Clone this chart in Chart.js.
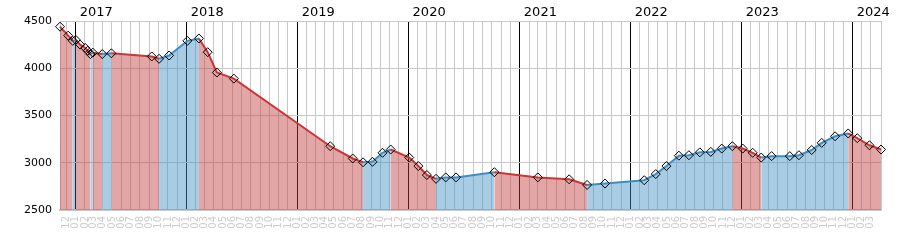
<!DOCTYPE html>
<html><head><meta charset="utf-8">
<style>html,body{margin:0;padding:0;background:#fff}#wrap{width:900px;height:250px}</style>
<script src="https://cdn.jsdelivr.net/npm/chart.js@4"></script>
</head><body><div id="wrap"><canvas id="c" width="900" height="250"></canvas></div>
<script>
// ---- data ----
const dates = [
"2016-11-11","2016-12-08","2016-12-23","2017-01-02","2017-01-16","2017-02-02","2017-02-10","2017-02-19","2017-02-27","2017-03-30",
"2017-04-29","2017-09-09","2017-10-03","2017-11-05","2018-01-04","2018-02-11","2018-03-12","2018-04-11","2018-06-06","2019-04-19",
"2019-07-02","2019-08-05","2019-09-05","2019-10-08","2019-11-04","2020-01-04","2020-02-03","2020-03-02","2020-04-01","2020-05-03",
"2020-06-06","2020-10-10","2021-03-02","2021-06-13","2021-08-11","2021-10-09","2022-02-15","2022-03-25","2022-04-29","2022-06-09",
"2022-07-12","2022-08-17","2022-09-22","2022-10-28","2022-12-02","2023-01-05","2023-02-07","2023-03-07","2023-04-10","2023-06-09",
"2023-07-09","2023-08-20","2023-09-22","2023-11-05","2023-12-18","2024-01-17","2024-02-26","2024-04-04"];
const values = [
4440,4345,4290,4300,4250,4215,4185,4150,4165,4150,
4158,4125,4100,4135,4290,4315,4170,3955,3890,3175,
3045,3005,3010,3105,3140,3055,2965,2870,2830,2845,
2845,2900,2845,2825,2765,2780,2815,2880,2965,3075,
3080,3110,3115,3150,3175,3150,3105,3055,3070,3070,
3080,3135,3210,3280,3310,3260,3185,3140];
const yTicks = [2500,3000,3500,4000,4500];
const monthLabels = ["01","02","03","04","05","06","07","08","09","10","11","12"];
const years = [2017,2018,2019,2020,2021,2022,2023,2024];

// ---- helpers ----
const DAY = 86400000, EPOCH = Date.UTC(2017,0,1);
function toDays(s){ const [y,m,d] = s.split('-').map(Number); return (Date.UTC(y,m-1,d)-EPOCH)/DAY; }
function fromDays(v){ return new Date(EPOCH + Math.round(v)*DAY); }
const pts = dates.map((d,i)=>({x: toDays(d), y: values[i]}));
const xMin = pts[0].x, xMax = pts[pts.length-1].x;

const RED_LINE = '#c83737', BLUE_LINE = '#3b8ec6';
const RED_FILL = 'rgba(193,57,57,0.45)', BLUE_FILL = 'rgba(62,142,195,0.45)';
const down = ctx => ctx.p1.parsed.y < ctx.p0.parsed.y;

const monthTicks = [];
for (let y = 2016; y <= 2024; y++) for (let m = 0; m < 12; m++) {
  const v = (Date.UTC(y,m,1)-EPOCH)/DAY;
  if (v >= xMin && v <= xMax - 5) monthTicks.push(v);
}
const FONT = "'DejaVu Sans'";

new Chart(document.getElementById('c'), {
  type: 'line',
  data: { datasets: [{
    data: pts,
    borderWidth: 2,
    borderColor: RED_LINE,
    backgroundColor: RED_FILL,
    fill: 'start',
    tension: 0,
    pointStyle: 'rectRot',
    pointRadius: 4.5,
    pointHoverRadius: 4.5,
    pointBorderWidth: 1,
    pointBorderColor: '#000',
    pointBackgroundColor: 'rgba(0,0,0,0)',
    clip: false,
    segment: {
      borderColor: ctx => down(ctx) ? RED_LINE : BLUE_LINE,
      backgroundColor: ctx => down(ctx) ? RED_FILL : BLUE_FILL
    }
  }]},
  options: {
    responsive: false,
    animation: false,
    events: [],
    layout: { padding: { left: 0, right: 0, top: 0, bottom: 0 } },
    plugins: { legend: { display: false }, tooltip: { enabled: false } },
    scales: {
      x: {
        type: 'linear', position: 'bottom', min: xMin, max: xMax,
        afterBuildTicks: s => { s.ticks = monthTicks.map(v => ({value: v})); },
        afterFit: s => { s.height = 40; },
        grid: {
          drawTicks: false,
          color: c => (c.tick && fromDays(c.tick.value).getUTCMonth() === 0) ? '#000' : '#c8c8c8',
          lineWidth: 1
        },
        border: { color: '#c8c8c8', width: 2 },
        ticks: {
          autoSkip: false, minRotation: 90, maxRotation: 90, padding: 6,
          color: '#cccccc', font: { family: FONT, size: 10 },
          callback: v => monthLabels[fromDays(v).getUTCMonth()]
        }
      },
      xTop: {
        type: 'linear', position: 'top', min: xMin, max: xMax,
        afterBuildTicks: s => { s.ticks = years.map(y => ({value: (Date.UTC(y,0,1)-EPOCH)/DAY + 14})); },
        afterFit: s => { s.height = 21; },
        grid: { display: false, drawTicks: false },
        border: { display: false },
        ticks: {
          autoSkip: false, maxRotation: 0, align: 'start', padding: 1,
          color: '#000', font: { family: FONT, size: 13 },
          callback: v => String(fromDays(v).getUTCFullYear())
        }
      },
      y: {
        type: 'linear', position: 'left', min: 2500, max: 4500,
        afterBuildTicks: s => { s.ticks = yTicks.map(v => ({value: v})); },
        afterFit: s => { s.width = 60; },
        grid: { color: '#c8c8c8', drawTicks: false },
        border: { color: '#c8c8c8', width: 1 },
        ticks: { padding: 8, color: '#000', font: { family: FONT, size: 11 }, callback: v => String(v) }
      },
      yR: {
        type: 'linear', position: 'right', min: 0, max: 1,
        afterFit: s => { s.width = 19; },
        grid: { display: false, drawTicks: false },
        border: { color: '#c8c8c8', width: 1 },
        ticks: { display: false }
      }
    }
  }
});
</script>
</body></html>
